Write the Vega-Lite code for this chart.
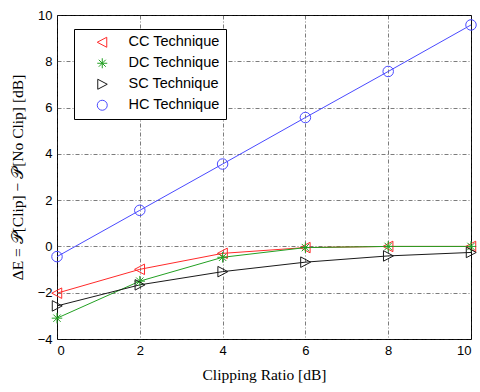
{
  "$schema": "https://vega.github.io/schema/vega-lite/v6.json",
  "width": 414,
  "height": 324,
  "autosize": {"type": "none"},
  "padding": {"left": 57, "top": 15, "right": 9, "bottom": 53},
  "background": "white",
  "config": {
    "view": {"stroke": "black", "strokeWidth": 1},
    "axis": {
      "labelFont": "Liberation Sans",
      "labelFontSize": 13,
      "labelColor": "black",
      "titleFont": "Liberation Serif",
      "titleFontWeight": "normal",
      "titleFontSize": 15.5,
      "titleColor": "black",
      "domain": false,
      "ticks": false,
      "gridColor": "#222",
      "gridDash": [4, 2, 1, 2],
      "gridWidth": 0.7,
      "gridOpacity": 0.85
    }
  },
  "data": {
    "values": [
      {"x": 0, "y": -2.02, "series": "CC Technique"},
      {"x": 2, "y": -0.99, "series": "CC Technique"},
      {"x": 4, "y": -0.3, "series": "CC Technique"},
      {"x": 6, "y": -0.05, "series": "CC Technique"},
      {"x": 8, "y": 0.0, "series": "CC Technique"},
      {"x": 10, "y": 0.0, "series": "CC Technique"},
      {"x": 0, "y": -3.1, "series": "DC Technique"},
      {"x": 2, "y": -1.5, "series": "DC Technique"},
      {"x": 4, "y": -0.47, "series": "DC Technique"},
      {"x": 6, "y": -0.05, "series": "DC Technique"},
      {"x": 8, "y": 0.0, "series": "DC Technique"},
      {"x": 10, "y": 0.0, "series": "DC Technique"},
      {"x": 0, "y": -2.57, "series": "SC Technique"},
      {"x": 2, "y": -1.66, "series": "SC Technique"},
      {"x": 4, "y": -1.09, "series": "SC Technique"},
      {"x": 6, "y": -0.68, "series": "SC Technique"},
      {"x": 8, "y": -0.41, "series": "SC Technique"},
      {"x": 10, "y": -0.26, "series": "SC Technique"},
      {"x": 0, "y": -0.44, "series": "HC Technique"},
      {"x": 2, "y": 1.56, "series": "HC Technique"},
      {"x": 4, "y": 3.56, "series": "HC Technique"},
      {"x": 6, "y": 5.57, "series": "HC Technique"},
      {"x": 8, "y": 7.56, "series": "HC Technique"},
      {"x": 10, "y": 9.57, "series": "HC Technique"}
    ]
  },
  "encoding": {
    "x": {
      "field": "x",
      "type": "quantitative",
      "scale": {"domain": [0, 10], "nice": false},
      "axis": {"values": [0, 2, 4, 6, 8, 10], "title": "Clipping Ratio [dB]", "labelPadding": 5, "titlePadding": 10}
    },
    "y": {
      "field": "y",
      "type": "quantitative",
      "scale": {"domain": [-4, 10], "nice": false},
      "axis": {"values": [-4, -2, 0, 2, 4, 6, 8, 10], "title": "ΔE = 𝒫[Clip] − 𝒫[No Clip] [dB]", "labelPadding": 5, "titlePadding": 12}
    },
    "color": {
      "field": "series",
      "type": "nominal",
      "scale": {
        "domain": ["CC Technique", "DC Technique", "SC Technique", "HC Technique"],
        "range": ["#ff2a2a", "#22a022", "#1a1a1a", "#4a4aff"]
      },
      "legend": {
        "title": null,
        "orient": "none",
        "legendX": 17,
        "legendY": 14,
        "fillColor": "white",
        "strokeColor": "black",
        "padding": 6,
        "rowPadding": 5,
        "symbolSize": 100,
        "symbolOffset": 15,
        "symbolStrokeWidth": 1,
        "symbolFillColor": "transparent",
        "symbolType": "circle",
        "labelOffset": 19,
        "labelFont": "Liberation Sans",
        "labelFontSize": 14.5,
        "labelColor": "black",
        "labelExpr": "datum.label + '\u00a0\u00a0\u00a0\u00a0\u00a0\u00a0\u00a0'",
        "encode": {
          "symbols": {
            "update": {
              "shape": {
                "condition": [
                  {"test": "datum.value === 'CC Technique'", "value": "M-3.7,0L3.7,0M-1,0L0.9,-1L0.9,1Z"},
                  {"test": "datum.value === 'DC Technique'", "value": "M-3.7,0L3.7,0M0,-1L0,1M-0.7,-0.7L0.7,0.7M-0.7,0.7L0.7,-0.7"},
                  {"test": "datum.value === 'SC Technique'", "value": "M-3.7,0L3.7,0M1,0L-0.9,-1L-0.9,1Z"}
                ],
                "value": "M-3.7,0L3.7,0M1,0A1,1 0 1,1 -1,0A1,1 0 1,1 1,0"
              },
              "fill": {"value": "transparent"}
            }
          }
        }
      }
    }
  },
  "layer": [
    {
      "mark": {"type": "line", "strokeWidth": 1},
      "encoding": {"detail": {"field": "series"}}
    },
    {
      "mark": {"type": "point", "filled": false, "size": 110, "strokeWidth": 1, "opacity": 1},
      "encoding": {
        "shape": {
          "field": "series",
          "type": "nominal",
          "scale": {
            "domain": ["CC Technique", "DC Technique", "SC Technique", "HC Technique"],
            "range": [
              "M-1,0L0.9,-1L0.9,1Z",
              "M-1,0L1,0M0,-1L0,1M-0.7,-0.7L0.7,0.7M-0.7,0.7L0.7,-0.7",
              "M1,0L-0.9,-1L-0.9,1Z",
              "circle"
            ]
          },
          "legend": null
        }
      }
    }
  ]
}
